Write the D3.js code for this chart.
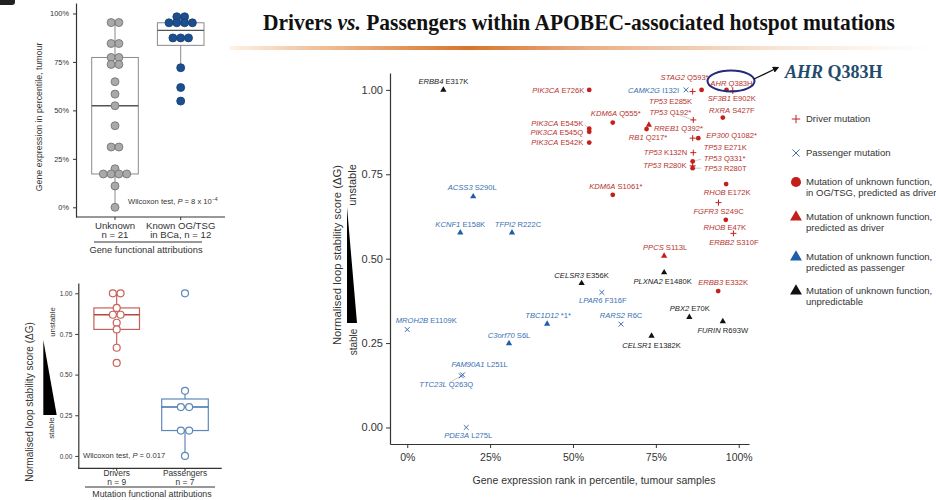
<!DOCTYPE html>
<html>
<head>
<meta charset="utf-8">
<script src="https://cdn.jsdelivr.net/npm/d3@7"></script>
<style>
  body { margin: 0; background: #fff; }
  svg { display: block; font-family: "Liberation Sans", Arial, sans-serif; }
</style>
</head>
<body>
<div id="chart-area"></div>
<script>

// main scatter: APOBEC hotspot mutations
const mutGenes = ["ERBB4","PIK3CA","KDM6A","PIK3CA","PIK3CA","PIK3CA","ACSS3","KCNF1","TFPI2","KDM6A",
  "STAG2","AHR","SF3B1","CAMK2G","TP53","TP53","RXRA","RREB1","RB1","EP300",
  "TP53","TP53","TP53","TP53","TP53","RHOB","FGFR3","RHOB","ERBB2","PPCS",
  "PLXNA2","ERBB3","CELSR3","LPAR6","RARS2","PBX2","FURIN","CELSR1","TBC1D12","MROH2B",
  "C3orf70","FAM90A1","TTC23L","PDE3A"];
const mutChanges = ["E317K","E726K","Q555*","E545K","E545Q","E542K","S290L","E158K","R222C","S1061*",
  "Q593*","Q383H","E902K","I132I","E285K","Q192*","S427F","Q392*","Q217*","Q1082*",
  "E271K","K132N","Q331*","R280K","R280T","E172K","S249C","E47K","S310F","S113L",
  "E1480K","E332K","E356K","F316F","R6C","E70K","R693W","E1382K","*1*","E1109K",
  "S6L","L251L","Q263Q","L275L"];
const exprRank = [0.109,0.549,0.620,0.549,0.549,0.549,0.199,0.160,0.316,0.620,
  0.888,0.963,0.982,0.841,0.861,0.863,0.952,0.729,0.722,0.878,
  0.861,0.863,0.861,0.861,0.861,0.962,0.939,0.961,0.984,0.775,
  0.775,0.938,0.526,0.587,0.645,0.851,0.952,0.737,0.422,0.000,
  0.307,0.167,0.163,0.178];
const loopScore = [1.000,1.000,0.903,0.885,0.876,0.844,0.684,0.577,0.577,0.689,
  1.000,1.000,0.997,1.000,0.995,0.911,0.918,0.896,0.884,0.857,
  0.857,0.814,0.788,0.775,0.768,0.721,0.666,0.615,0.575,0.508,
  0.459,0.404,0.427,0.400,0.306,0.327,0.314,0.271,0.307,0.290,
  0.249,0.156,0.153,0.000];
// D driver, X passenger, O unknown in OG/TSG pred. driver, R pred. driver, P pred. passenger, U unpredictable
const mutClass = ["U","O","O","O","O","O","P","P","P","O",
  "O","O","D","X","D","D","O","R","O","O",
  "D","D","O","D","O","O","D","O","D","R",
  "U","O","U","X","X","U","U","U","P","X",
  "P","X","X","X"];

// left panels
const unknownExpr = [0.953,0.953,0.845,0.845,0.773,0.773,0.737,0.737,0.648,0.584,0.524,0.421,0.311,0.311,0.199,0.172,0.172,0.172,0.172,0.110,0.000];
const knownExpr = [0.983,0.983,0.952,0.952,0.952,0.952,0.874,0.874,0.874,0.720,0.618,0.548];
const driverScore = [1.000,1.000,0.910,0.868,0.868,0.819,0.778,0.665,0.572];
const passengerScore = [1.000,0.400,0.300,0.300,0.156,0.156,0.000];

const pctTicks = [0, 0.25, 0.5, 0.75, 1];
const legendItems = ["D","X","O","R","P","U"];
const legendText = [["Driver mutation"],["Passenger mutation"],
  ["Mutation of unknown function,","in OG/TSG, predicted as driver"],
  ["Mutation of unknown function,","predicted as driver"],
  ["Mutation of unknown function,","predicted as passenger"],
  ["Mutation of unknown function,","unpredictable"]];

// label placement (layout only): dx, dy, anchor, leader line
const labelNudge = [
 [0,-9,"middle"],[-5,0,"end"],[3,-9,"middle"],[-6,-5,"end",1],[-6,1,"end"],[-6,0,"end"],[-1,-9,"middle"],[0,-8.5,"middle"],[6,-8.5,"middle"],[3,-8.5,"middle"],
 [-17,-13,"middle"],[5,-7,"middle"],[-1,7.5,"middle"],[-7,0,"end"],[-22,10,"middle"],[-23,-8,"middle",1],[9,-7,"middle"],[5,3,"start"],[1.5,8,"middle"],[8,-3,"start"],
 [11,9.5,"start"],[-6,0,"end"],[11,-3,"start",1],[-6,0,"end"],[11,0,"start",1],[1,8,"middle"],[0,8.5,"middle"],[-1,7,"middle"],[0.5,9,"middle"],[1,-9,"middle"],
 [-1.5,9,"middle"],[5,-9,"middle"],[0,-8,"middle"],[1,7.5,"middle"],[0,-8.5,"middle"],[0.5,-8.5,"middle"],[0,8.5,"middle"],[0,9,"middle"],[1,-8,"middle"],[19,-9,"middle"],
 [0,-8,"middle"],[17,-10.5,"middle"],[-15,8.5,"middle",1],[2,8,"middle"]
];

const redMark = "#c3201c", redText = "#b5342e";
const blueMark = "#1f5ea8", blueText = "#3b70b2";
const markColor = {D: redMark, X: "#3f70ae", O: redMark, R: redMark, P: blueMark, U: "#111"};
const textColor = {D: redText, X: blueText, O: redText, R: redText, P: blueText, U: "#222"};

const svg = d3.select("#chart-area").append("svg")
  .attr("width", 936)
  .attr("height", 500);

// title + orange rule
const grad = svg.append("defs").append("linearGradient").attr("id", "rule");
[[0,"#fdf1e6"],[0.12,"#f0c29c"],[0.34,"#d8742b"],[0.52,"#eab089"],[0.78,"#f8e4d4"],[1,"#ffffff"]]
  .forEach(s => grad.append("stop").attr("offset", s[0]).attr("stop-color", s[1]));
svg.append("rect").attr("x", 230).attr("y", 46).attr("width", 700).attr("height", 4).attr("fill", "url(#rule)");

// title squeezed horizontally to the reference width
const titleG = svg.append("g");
const title = titleG.append("text")
  .attr("font-family", "'Liberation Serif','Times New Roman',serif")
  .attr("font-weight", "bold").attr("font-size", 23).attr("fill", "#111");
title.append("tspan").text("Drivers ");
title.append("tspan").attr("font-style", "italic").text("vs.");
title.append("tspan").text(" Passengers within APOBEC-associated hotspot mutations");
const titleW = title.node().getComputedTextLength() || 632;
titleG.attr("transform", `translate(263,30) scale(${632 / titleW},1)`);

svg.append("rect").attr("x", -4).attr("y", -5).attr("width", 19).attr("height", 10).attr("rx", 3).attr("fill", "#222");

function styleAxis(g, size) {
  g.attr("font-size", size).attr("font-family", "'Liberation Sans', Arial, sans-serif");
  g.selectAll("text").attr("fill", "#333");
  g.selectAll("line").attr("stroke", "#333");
  g.select(".domain").attr("stroke", "#333").attr("stroke-width", 1.2);
}

function drawMark(g, cls, k) {
  if (cls === "D") {
    g.append("path").attr("d", `M${-3*k},0H${3*k}M0,${-3*k}V${3*k}`)
      .attr("stroke", markColor.D).attr("stroke-width", 1);
  } else if (cls === "X") {
    const a = 2.4 * k;
    g.append("path").attr("d", `M${-a},${-a}L${a},${a}M${-a},${a}L${a},${-a}`)
      .attr("stroke", markColor.X).attr("stroke-width", 1);
  } else if (cls === "O") {
    g.append("circle").attr("r", 2.4 * k).attr("fill", markColor.O);
  } else {
    g.append("path").attr("d", d3.symbol(d3.symbolTriangle, 17 * k * k)()).attr("fill", markColor[cls]);
  }
}

// ---- main scatter ----
const x = d3.scaleLinear().domain([-0.052, 1.031]).range([390, 749]);
const y = d3.scaleLinear().domain([-0.049, 1.05]).range([444, 73]);

const gx = svg.append("g").attr("transform", "translate(0,444)")
  .call(d3.axisBottom(x).tickValues(pctTicks).tickFormat(d => Math.round(d * 100) + "%")
    .tickSize(4).tickSizeOuter(0).tickPadding(6));
styleAxis(gx, 10.5);
const gy = svg.append("g").attr("transform", "translate(390,0)")
  .call(d3.axisLeft(y).tickValues(pctTicks).tickFormat(d3.format(".2f"))
    .tickSize(4).tickSizeOuter(0).tickPadding(3));
styleAxis(gy, 11);

svg.append("text").attr("x", 594).attr("y", 484).attr("text-anchor", "middle")
  .attr("font-size", 10.5).attr("fill", "#333")
  .text("Gene expression rank in percentile, tumour samples");
svg.append("text").attr("transform", "translate(341,255) rotate(-90)").attr("text-anchor", "middle")
  .attr("font-size", 11.3).attr("fill", "#333")
  .text("Normalised loop stability score (\u0394G)");
svg.append("text").attr("transform", "translate(356,185) rotate(-90)").attr("text-anchor", "middle")
  .attr("font-size", 11).attr("fill", "#333").text("unstable");
svg.append("text").attr("transform", "translate(357,342) rotate(-90)").attr("text-anchor", "middle")
  .attr("font-size", 10).attr("fill", "#333").text("stable");
svg.append("path").attr("d", "M347,207L347,323L357,323Z").attr("fill", "#000");

const idx = d3.range(mutGenes.length);

// leader lines
svg.append("g").selectAll("line")
  .data(idx.filter(i => labelNudge[i][3]))
  .join("line")
  .attr("x1", i => x(exprRank[i])).attr("y1", i => y(loopScore[i]))
  .attr("x2", i => x(exprRank[i]) + labelNudge[i][0] * 0.8)
  .attr("y2", i => y(loopScore[i]) + labelNudge[i][1] * 0.8)
  .attr("stroke", "#aaa").attr("stroke-width", 0.6);

const marks = svg.append("g").selectAll("g")
  .data(idx)
  .join("g")
  .attr("transform", i => `translate(${x(exprRank[i])},${y(loopScore[i])})`);
marks.each(function(i) { drawMark(d3.select(this), mutClass[i], 1); });

const labels = svg.append("g").attr("font-size", 7.6).selectAll("text")
  .data(idx)
  .join("text")
  .attr("x", i => x(exprRank[i]) + labelNudge[i][0])
  .attr("y", i => y(loopScore[i]) + labelNudge[i][1])
  .attr("dy", "0.35em")
  .attr("text-anchor", i => labelNudge[i][2])
  .attr("fill", i => textColor[mutClass[i]]);
labels.append("tspan").attr("font-style", "italic").text(i => mutGenes[i]);
labels.append("tspan").text(i => " " + mutChanges[i]);

// AHR callout
svg.append("ellipse").attr("cx", 731).attr("cy", 81).attr("rx", 23.5).attr("ry", 10.5)
  .attr("fill", "none").attr("stroke", "#242b7c").attr("stroke-width", 2);
svg.append("defs").append("marker").attr("id", "head")
  .attr("viewBox", "0 0 10 10").attr("refX", 8).attr("refY", 5)
  .attr("markerWidth", 5).attr("markerHeight", 5).attr("orient", "auto")
  .append("path").attr("d", "M0,0L10,5L0,10Z").attr("fill", "#111");
svg.append("line").attr("x1", 754).attr("y1", 79).attr("x2", 778).attr("y2", 67.5)
  .attr("stroke", "#111").attr("stroke-width", 1.3).attr("marker-end", "url(#head)");
const ahr = svg.append("text").attr("x", 785).attr("y", 78)
  .attr("font-family", "'Liberation Serif','Times New Roman',serif")
  .attr("font-weight", "bold").attr("font-size", 18).attr("fill", "#1f4b6c");
ahr.append("tspan").attr("font-style", "italic").text("AHR");
ahr.append("tspan").text(" Q383H");

// legend
const legendY = [119, 153, 182, 217, 257, 291];
const legendK = {D: 1.4, X: 1.5, O: 2.1, R: 1.9, P: 1.9, U: 1.9};
const leg = svg.append("g").selectAll("g")
  .data(legendItems)
  .join("g")
  .attr("transform", (d, i) => `translate(796,${legendY[i]})`);
leg.each(function(d) { drawMark(d3.select(this), d, legendK[d]); });
leg.append("text").attr("x", 10).attr("font-size", 9.5).attr("fill", "#333")
  .selectAll("tspan")
  .data((d, i) => legendText[i])
  .join("tspan")
  .attr("x", 10).attr("y", (t, j) => j * 11).attr("dy", "0.35em")
  .text(t => t);

// ---- top-left boxplot ----
function boxStats(vals) {
  const s = vals.slice().sort(d3.ascending);
  const q1 = d3.quantileSorted(s, 0.25), med = d3.quantileSorted(s, 0.5), q3 = d3.quantileSorted(s, 0.75);
  const iqr = q3 - q1;
  return {q1, med, q3,
    lo: d3.min(s.filter(v => v >= q1 - 1.5 * iqr)),
    hi: d3.max(s.filter(v => v <= q3 + 1.5 * iqr))};
}
function swarm(vals, step) {
  const count = d3.rollup(vals, v => v.length, v => v);
  const seen = new Map();
  return vals.map(v => {
    const j = seen.get(v) || 0; seen.set(v, j + 1);
    return (j - (count.get(v) - 1) / 2) * step;
  });
}
function drawBox(g, vals, cx, ys, half, stroke, medStroke, sw) {
  const b = boxStats(vals);
  g.append("line").attr("x1", cx).attr("x2", cx).attr("y1", ys(b.hi)).attr("y2", ys(b.q3)).attr("stroke", stroke).attr("stroke-width", sw);
  g.append("line").attr("x1", cx).attr("x2", cx).attr("y1", ys(b.q1)).attr("y2", ys(b.lo)).attr("stroke", stroke).attr("stroke-width", sw);
  g.append("rect").attr("x", cx - half).attr("width", half * 2)
    .attr("y", ys(b.q3)).attr("height", ys(b.q1) - ys(b.q3))
    .attr("fill", "none").attr("stroke", stroke).attr("stroke-width", sw);
  g.append("line").attr("x1", cx - half).attr("x2", cx + half).attr("y1", ys(b.med)).attr("y2", ys(b.med))
    .attr("stroke", medStroke).attr("stroke-width", sw + 0.3);
}

const yTL = d3.scaleLinear().domain([-0.05, 1.054]).range([217, 3]);
const tlCats = ["Unknown", "Known OG/TSG"];
const tlSub = ["n = " + unknownExpr.length, "in BCa, n = " + knownExpr.length];
const xTL = d3.scalePoint().domain(tlCats).range([115, 180.7]);
const tl = svg.append("g");
const tlY = tl.append("g").attr("transform", "translate(76,0)")
  .call(d3.axisLeft(yTL).tickValues(pctTicks).tickFormat(d => Math.round(d * 100) + "%").tickSize(3).tickSizeOuter(0).tickPadding(4));
styleAxis(tlY, 7.4);
tl.append("line").attr("x1", 76).attr("x2", 225).attr("y1", 217).attr("y2", 217).attr("stroke", "#333").attr("stroke-width", 1.2);
tl.selectAll(".xt").data(tlCats).join("line").attr("class", "xt")
  .attr("x1", d => xTL(d)).attr("x2", d => xTL(d)).attr("y1", 217).attr("y2", 220).attr("stroke", "#333");

drawBox(tl, unknownExpr, xTL(tlCats[0]), yTL, 23.3, "#8a8a8a", "#555", 1);
drawBox(tl, knownExpr, xTL(tlCats[1]), yTL, 23.3, "#8a8a8a", "#555", 1);
const uOff = swarm(unknownExpr, 7.8), kOff = swarm(knownExpr, 7.8);
tl.append("g").selectAll("circle").data(unknownExpr).join("circle")
  .attr("cx", (d, i) => xTL(tlCats[0]) + uOff[i]).attr("cy", d => yTL(d)).attr("r", 4)
  .attr("fill", "#a9a9a9").attr("stroke", "#6d6d6d").attr("stroke-width", 0.8);
tl.append("g").selectAll("circle").data(knownExpr).join("circle")
  .attr("cx", (d, i) => xTL(tlCats[1]) + kOff[i]).attr("cy", d => yTL(d)).attr("r", 4)
  .attr("fill", "#1c4f8e").attr("stroke", "#163e70").attr("stroke-width", 0.8);

tl.selectAll(".cat").data(tlCats).join("text").attr("class", "cat")
  .attr("x", d => xTL(d)).attr("y", 228.5).attr("text-anchor", "middle").attr("font-size", 9.6).attr("fill", "#333").text(d => d);
tl.selectAll(".sub").data(tlSub).join("text").attr("class", "sub")
  .attr("x", (d, i) => xTL(tlCats[i])).attr("y", 238.3).attr("text-anchor", "middle").attr("font-size", 9.6).attr("fill", "#333").text(d => d);
tl.append("line").attr("x1", 94).attr("x2", 202).attr("y1", 242).attr("y2", 242).attr("stroke", "#333");
tl.append("text").attr("x", 146).attr("y", 252.5).attr("text-anchor", "middle").attr("font-size", 9.3).attr("fill", "#333")
  .text("Gene functional attributions");
tl.append("text").attr("transform", "translate(42,117) rotate(-90)").attr("text-anchor", "middle")
  .attr("font-size", 8.8).attr("fill", "#333").text("Gene expression in percentile, tumour");
const w1 = tl.append("text").attr("x", 128).attr("y", 204).attr("font-size", 7.6).attr("fill", "#333");
w1.append("tspan").text("Wilcoxon test, ");
w1.append("tspan").attr("font-style", "italic").text("P");
w1.append("tspan").text(" = 8 x 10");
w1.append("tspan").attr("font-size", 5.2).attr("dy", -3).text("\u22124");

// ---- bottom-left boxplot ----
const yBL = d3.scaleLinear().domain([-0.0762, 1.0633]).range([468.3, 283]);
const blCats = ["Drivers", "Passengers"];
const blSub = ["n = " + driverScore.length, "n = " + passengerScore.length];
const xBL = d3.scalePoint().domain(blCats).range([116.7, 185]);
const bl = svg.append("g");
const blY = bl.append("g").attr("transform", "translate(78.3,0)")
  .call(d3.axisLeft(yBL).tickValues(pctTicks).tickFormat(d3.format(".2f")).tickSize(3).tickSizeOuter(0).tickPadding(3));
styleAxis(blY, 6.5);
bl.append("line").attr("x1", 78.3).attr("x2", 221.7).attr("y1", 468.3).attr("y2", 468.3).attr("stroke", "#333").attr("stroke-width", 1.2);
bl.selectAll(".xt").data(blCats).join("line").attr("class", "xt")
  .attr("x1", d => xBL(d)).attr("x2", d => xBL(d)).attr("y1", 468.3).attr("y2", 471).attr("stroke", "#333");

const drvCol = "#c6625b", pasCol = "#5e88b8";
drawBox(bl, driverScore, xBL(blCats[0]), yBL, 22.8, drvCol, "#b4473f", 1.2);
drawBox(bl, passengerScore, xBL(blCats[1]), yBL, 23.3, pasCol, "#3f6fa6", 1.2);
const dOff = swarm(driverScore, 7.7), pOff = swarm(passengerScore, 8.3);
bl.append("g").selectAll("circle").data(driverScore).join("circle")
  .attr("cx", (d, i) => xBL(blCats[0]) + dOff[i]).attr("cy", d => yBL(d)).attr("r", 3.5)
  .attr("fill", "#fff").attr("stroke", drvCol).attr("stroke-width", 1.2);
bl.append("g").selectAll("circle").data(passengerScore).join("circle")
  .attr("cx", (d, i) => xBL(blCats[1]) + pOff[i]).attr("cy", d => yBL(d)).attr("r", 3.5)
  .attr("fill", "#fff").attr("stroke", pasCol).attr("stroke-width", 1.2);

bl.selectAll(".cat").data(blCats).join("text").attr("class", "cat")
  .attr("x", d => xBL(d)).attr("y", 476).attr("text-anchor", "middle").attr("font-size", 8.4).attr("fill", "#333").text(d => d);
bl.selectAll(".sub").data(blSub).join("text").attr("class", "sub")
  .attr("x", (d, i) => xBL(blCats[i])).attr("y", 484.6).attr("text-anchor", "middle").attr("font-size", 8.4).attr("fill", "#333").text(d => d);
bl.append("line").attr("x1", 85).attr("x2", 215).attr("y1", 487).attr("y2", 487).attr("stroke", "#333");
bl.append("text").attr("x", 152).attr("y", 496.5).attr("text-anchor", "middle").attr("font-size", 8.8).attr("fill", "#333")
  .text("Mutation functional attributions");
bl.append("text").attr("transform", "translate(33,402) rotate(-90)").attr("text-anchor", "middle")
  .attr("font-size", 10).attr("fill", "#333").text("Normalised loop stability score (\u0394G)");
bl.append("text").attr("transform", "translate(55,322) rotate(-90)").attr("text-anchor", "middle")
  .attr("font-size", 7.8).attr("fill", "#333").text("unstable");
bl.append("text").attr("transform", "translate(53.5,428) rotate(-90)").attr("text-anchor", "middle")
  .attr("font-size", 8).attr("fill", "#333").text("stable");
bl.append("path").attr("d", "M43.3,340L43.3,415L56.7,415Z").attr("fill", "#000");
const w2 = bl.append("text").attr("x", 83).attr("y", 457.5).attr("font-size", 7.6).attr("fill", "#333");
w2.append("tspan").text("Wilcoxon test, ");
w2.append("tspan").attr("font-style", "italic").text("P");
w2.append("tspan").text(" = 0.017");

</script>
</body>
</html>
